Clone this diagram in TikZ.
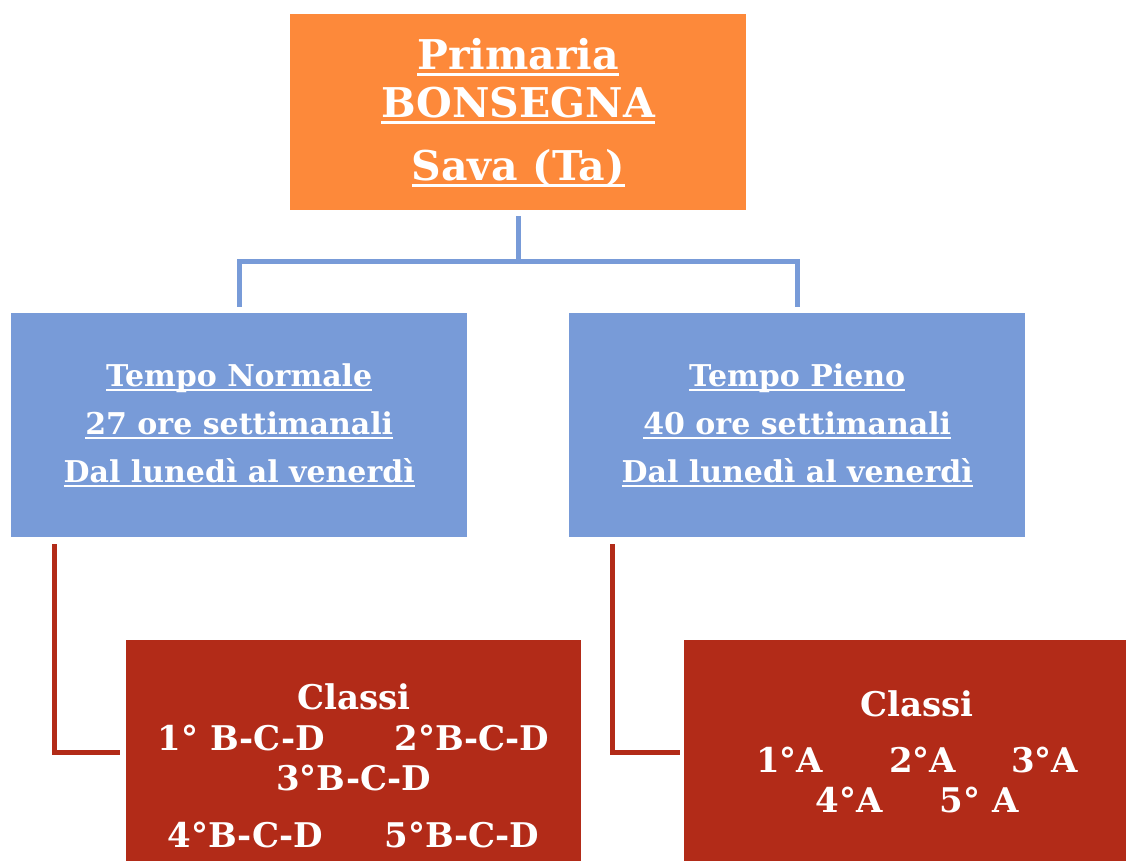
\documentclass[tikz,border=0pt]{standalone}
\usepackage{fontspec}
\setmainfont{DejaVu Serif}
\usetikzlibrary{calc}
\definecolor{orangefill}{RGB}{253,137,58}
\definecolor{bluefill}{RGB}{120,155,216}
\definecolor{redfill}{RGB}{178,43,24}
\newcommand\uln[1]{\setbox0=\hbox{#1}\leavevmode\rlap{\rule[-0.16em]{\wd0}{0.065em}}\box0}
\tikzset{
  box/.style={rectangle, inner sep=0pt, anchor=north west, text=white, align=center},
  topbox/.style={box, fill=orangefill, minimum width=456pt, minimum height=196pt,
    font={\bfseries\fontsize{41}{48}\selectfont}},
  midbox/.style={box, fill=bluefill, minimum width=456pt, minimum height=224pt,
    font={\bfseries\fontsize{30}{48}\selectfont}},
  lowbox/.style={box, fill=redfill, font={\bfseries\fontsize{34}{40}\selectfont}},
  blueline/.style={draw=bluefill, line width=5pt},
  redline/.style={draw=redfill, line width=5pt},
}
\begin{document}
\begin{tikzpicture}[x=1pt,y=-1pt]
\useasboundingbox (0,0) rectangle (1126,860);
\node[topbox] (top) at (290,14) {\uln{Primaria}\\\uln{BONSEGNA}\\[15pt]\uln{Sava (Ta)}};
\node[midbox] (tn) at (11,313) {\uln{Tempo Normale}\\\uln{27 ore settimanali}\\\uln{Dal lunedì al venerdì}};
\node[midbox] (tp) at (569,313) {\uln{Tempo Pieno}\\\uln{40 ore settimanali}\\\uln{Dal lunedì al venerdì}};
\node[lowbox, minimum width=455pt, minimum height=252pt] (cl) at (126,640)
  {Classi\\[1pt]1° B-C-D\hspace{70pt}2°B-C-D\\3°B-C-D\\[17pt]4°B-C-D\hspace{62pt}5°B-C-D};
\node[lowbox, minimum width=466pt, minimum height=223pt] (cr) at (684,640)
  {Classi\\[16pt]1°A\hspace{66pt}2°A\hspace{55pt}3°A\\4°A\hspace{57pt}5° A};
\draw[blueline, shorten <=6pt, shorten >=6pt] (top.south) -- ([yshift=-51pt]top.south) -| (tn.north);
\draw[blueline, shorten <=6pt, shorten >=6pt] (top.south) -- ([yshift=-51pt]top.south) -| (tp.north);
\draw[redline, shorten <=7pt, shorten >=6pt] ([xshift=43.5pt]tn.south west) |- ([yshift=-112.5pt]cl.north west);
\draw[redline, shorten <=7pt, shorten >=4pt] ([xshift=43.5pt]tp.south west) |- ([yshift=-112.5pt]cr.north west);
\end{tikzpicture}
\end{document}
